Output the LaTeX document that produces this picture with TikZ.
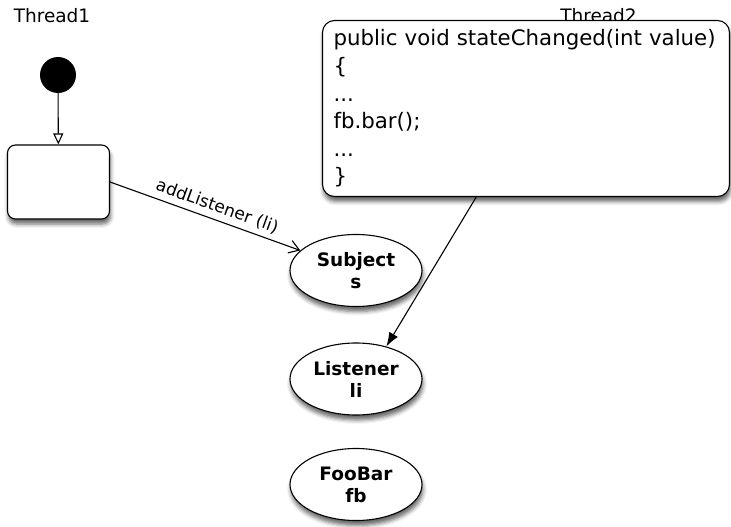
\documentclass[tikz,border=0pt]{standalone}
\usepackage{fontspec}
\setmainfont{DejaVu Sans}
\usetikzlibrary{arrows.meta,shadows.blur,shapes.geometric,calc}
\begin{document}
\begin{tikzpicture}[x=1pt,y=-1pt,
  shade/.style={blur shadow={shadow xshift=1pt,shadow yshift=-5pt,shadow blur radius=4pt,shadow opacity=60}},
  title/.style={font=\fontsize{18.5}{22}\selectfont, inner sep=0pt},
  obj/.style={ellipse, draw, line width=1.1pt, fill=white, shade, minimum width=132pt, minimum height=72pt,
    inner sep=0pt, align=center, font=\fontsize{18.5}{22}\selectfont\bfseries},
  statebox/.style={draw, line width=1.1pt, fill=white, rounded corners=8pt, shade},
  conn/.style={line width=1.1pt}
]
\useasboundingbox (0,0) rectangle (731,527);

\node[title] (t1) at (52,16) {Thread1};
\node[title] (t2) at (598.5,15.5) {Thread2};

\node[circle, fill=black, minimum size=36pt, inner sep=0pt] (init) at (58,75) {};
\node[statebox, minimum width=102pt, minimum height=74pt] (s1) at (58.5,182) {};

\node[statebox, rounded corners=12pt, minimum width=407pt, minimum height=176pt,
  text width=385pt, inner xsep=11pt, inner ysep=0pt, align=left,
  font=\fontsize{21.3}{27.6}\selectfont] (code) at (526,108.5)
  {public void stateChanged(int value)\\{\{}\\...\\fb.bar();\\...\\\}};

\node[obj] (subj) at (356,270.5) {Subject\\s};
\node[obj] (lis) at (356,379) {Listener\\li};
\node[obj] (foo) at (356,484.5) {FooBar\\fb};

\draw[conn, -{Triangle[open,length=11pt,width=10pt]}] (init) -- (s1);
\draw[conn, -{Straight Barb[length=10pt,width=13pt]}] (s1.east) -- (subj)
  node[pos=0.54, sloped, above, inner sep=5pt, font=\fontsize{17}{20}\selectfont] {addListener (li)};
\coordinate (cs) at ($(code.south west)!0.378!(code.south east)$);
\draw[conn, -{Latex[length=14pt,width=10pt]}] (cs) -- (lis.47);
\end{tikzpicture}
\end{document}
